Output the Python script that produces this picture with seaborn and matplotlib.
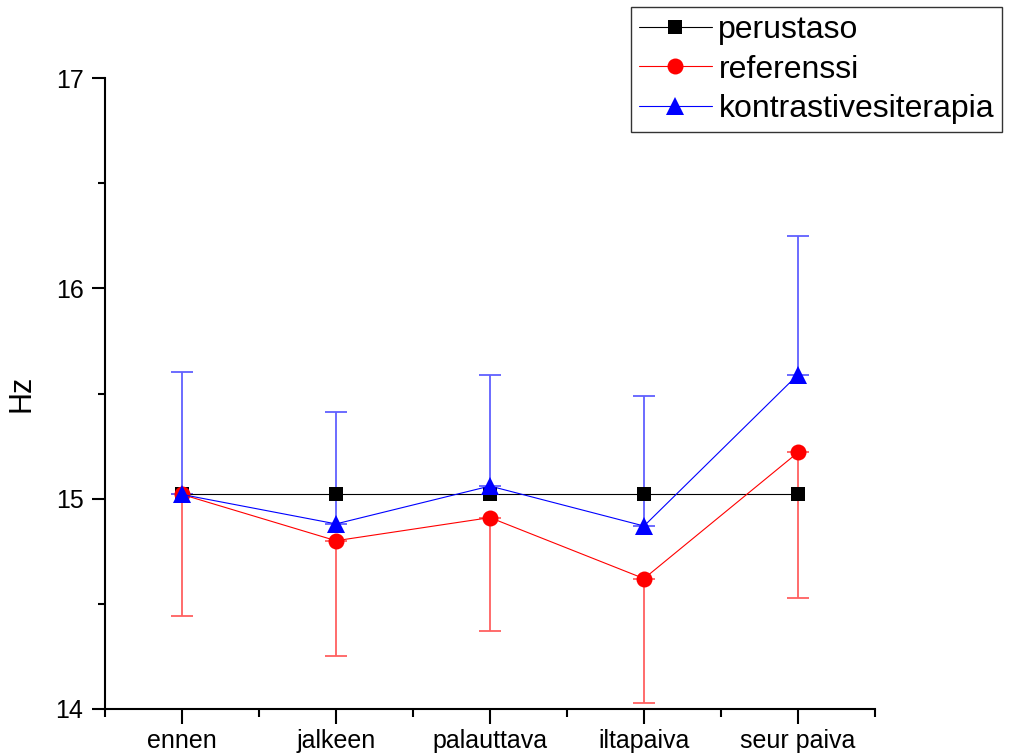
import numpy as np
import pandas as pd
import matplotlib
matplotlib.use("Agg")
import matplotlib.pyplot as plt
import seaborn as sns

categories = ["ennen", "jalkeen", "palauttava", "iltapaiva", "seur paiva"]
perustaso = [15.02, 15.02, 15.02, 15.02, 15.02]
referenssi = [15.02, 14.80, 14.91, 14.62, 15.22]
referenssi_low = [14.44, 14.25, 14.37, 14.03, 14.53]
kontrasti = [15.02, 14.88, 15.06, 14.87, 15.59]
kontrasti_high = [15.60, 15.41, 15.59, 15.49, 16.25]

sns.set_theme(style="white")
plt.rcParams['font.family'] = ['Liberation Sans', 'DejaVu Sans']
plt.rcParams['text.color'] = 'black'
plt.rcParams['axes.labelcolor'] = 'black'
plt.rcParams['xtick.color'] = 'black'
plt.rcParams['ytick.color'] = 'black'

fig = plt.figure(figsize=(10.12, 7.56), dpi=100)
ax = fig.add_axes([105/1012, 47/756, 770/1012, 631/756])

df = pd.DataFrame({
    "cat": categories * 3,
    "val": perustaso + referenssi + kontrasti,
    "series": ["perustaso"] * 5 + ["referenssi"] * 5 + ["kontrastivesiterapia"] * 5,
})
x = np.arange(len(categories))

# error bars (one-sided)
ax.errorbar(x, referenssi,
            yerr=[np.array(referenssi) - np.array(referenssi_low), np.zeros(5)],
            fmt="none", ecolor="#ff6060", elinewidth=1.3, capsize=8, capthick=1.3, zorder=1)
ax.errorbar(x, kontrasti,
            yerr=[np.zeros(5), np.array(kontrasti_high) - np.array(kontrasti)],
            fmt="none", ecolor="#6060ff", elinewidth=1.3, capsize=8, capthick=1.3, zorder=1)

styles = {
    "perustaso": dict(color="black", marker="s", ms=10),
    "referenssi": dict(color="red", marker="o", ms=11.5),
    "kontrastivesiterapia": dict(color="blue", marker="^", ms=13),
}
for name, st in styles.items():
    sub = df[df.series == name]
    sns.lineplot(data=sub, x="cat", y="val", ax=ax, color=st["color"], marker=st["marker"],
                 markersize=st["ms"], markeredgewidth=0, linewidth=0.8, label=name,
                 sort=False, zorder=3)

ax.set_xlim(-0.5, 4.5)
ax.set_ylim(14, 17)
ax.set_xticks(x)
ax.set_xticklabels(categories, fontsize=18)
ax.set_xticks(np.arange(-0.5, 4.6, 1.0), minor=True)
ax.set_yticks([14, 15, 16, 17])
ax.set_yticklabels(["14", "15", "16", "17"], fontsize=18)
ax.set_yticks([14.5, 15.5, 16.5], minor=True)
ax.tick_params(axis="x", which="major", direction="out", length=10.5, width=1.5,
               color="black", labelcolor="black", bottom=True, pad=4)
ax.tick_params(axis="x", which="minor", direction="out", length=6, width=1.5,
               color="black", bottom=True)
ax.tick_params(axis="y", which="major", direction="out", length=9.5, width=1.5,
               color="black", labelcolor="black", left=True, pad=6)
ax.tick_params(axis="y", which="minor", direction="out", length=5, width=1.5,
               color="black", left=True)
for s in ["top", "right"]:
    ax.spines[s].set_visible(False)
for s in ["left", "bottom"]:
    ax.spines[s].set_color("black")
    ax.spines[s].set_linewidth(1.5)
ax.set_xlabel("")
ax.set_ylabel("Hz", fontsize=22, labelpad=14, color="black")

leg = ax.legend(loc="upper right", bbox_to_anchor=(1002/1012, 1 - 7/756),
                bbox_transform=fig.transFigure, fontsize=23, frameon=True,
                fancybox=False, edgecolor="black", handlelength=2.3,
                handletextpad=0.2, borderpad=0.25, labelspacing=0.3,
                borderaxespad=0, labelcolor="black")
leg.get_frame().set_linewidth(1.0)

fig.savefig("out.png", dpi=100)
